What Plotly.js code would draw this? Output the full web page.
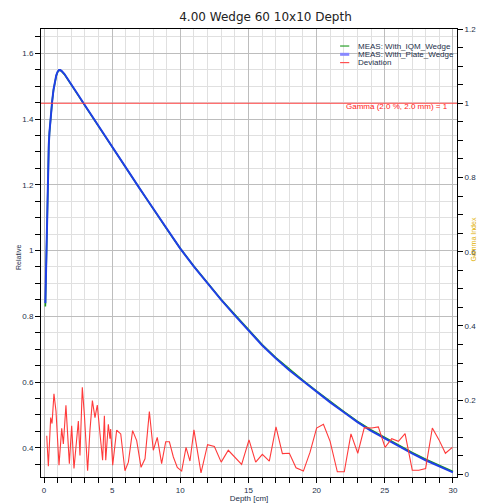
<!DOCTYPE html>
<html>
<head>
<meta charset="utf-8">
<script src="https://cdn.plot.ly/plotly-3.0.1.min.js"></script>
<style>html,body{margin:0;padding:0;background:#fff;}#chart{width:479px;height:503px;}</style>
</head>
<body>
<div id="chart"></div>
<script>
// ---- data ----
const chartTitle = "4.00 Wedge 60 10x10 Depth";
const xTitle = "Depth [cm]";
const yTitle = "Relative";
const y2Title = "Gamma Index";
const seriesNames = ["MEAS: With_IQM_Wedge", "MEAS: With_Plate_Wedge", "Deviation"];
const gammaLabel = "Gamma (2.0 %, 2.0 mm) = 1";
const gammaThreshold = 1;

const depth = [0.1,0.15,0.2,0.25,0.3,0.35,0.4,0.5,0.6,0.7,0.8,0.9,1.0,1.1,1.2,1.3,1.5,1.75,2.0,2.5,3,3.5,4,4.5,5,5.5,6,6.5,7,7.5,8,8.5,9,9.5,10,11,12,13,14,15,16,17,18,19,20,21,22,23,24,25,26,27,28,29,30];
const plateWedge = [0.84,0.95,1.08,1.19,1.27,1.32,1.36,1.415,1.455,1.49,1.515,1.533,1.544,1.549,1.549,1.546,1.537,1.522,1.506,1.474,1.442,1.41,1.379,1.347,1.316,1.285,1.253,1.222,1.19,1.159,1.128,1.097,1.066,1.036,1.006,0.951,0.899,0.850,0.803,0.756,0.712,0.672,0.636,0.603,0.570,0.538,0.508,0.478,0.451,0.428,0.405,0.383,0.362,0.343,0.325];
const iqmWedge = [0.83,0.945,1.075,1.185,1.268,1.318,1.358,1.413,1.454,1.489,1.514,1.532,1.543,1.548,1.548,1.545,1.536,1.521,1.505,1.473,1.441,1.409,1.378,1.346,1.315,1.284,1.252,1.221,1.19,1.158,1.127,1.097,1.066,1.036,1.006,0.952,0.900,0.851,0.805,0.758,0.714,0.674,0.638,0.605,0.572,0.540,0.510,0.480,0.454,0.431,0.408,0.386,0.365,0.346,0.328];

const devDepth = [0.2,0.32,0.49,0.59,0.73,0.88,1.10,1.30,1.42,1.61,1.86,2.03,2.20,2.35,2.52,2.64,2.81,2.96,3.2,3.37,3.55,3.74,3.91,4.11,4.3,4.43,4.53,4.72,4.84,4.89,5.04,5.33,5.63,5.94,6.19,6.5,6.8,7.12,7.41,7.73,8.02,8.31,8.63,8.93,9.2,9.49,9.78,10.1,10.42,10.71,11.0,11.52,12.0,12.5,13.0,13.52,14.5,15.04,15.53,16.02,16.53,17.02,17.49,18.0,18.49,19.03,19.52,20.0,20.5,20.99,21.52,22.03,22.52,23.02,23.5,24.04,24.53,25.02,25.51,26.0,26.49,27.02,27.5,28.0,28.49,28.98,29.45,29.96];
const devValue = [0.104,0.022,0.153,0.137,0.217,0.171,0.025,0.124,0.082,0.186,0.029,0.131,0.016,0.082,0.144,0.051,0.235,0.162,0.010,0.118,0.199,0.153,0.187,0.109,0.038,0.158,0.038,0.135,0.096,0.122,0.025,0.119,0.109,0.010,0.033,0.118,0.091,0.019,0.042,0.169,0.065,0.100,0.029,0.088,0.088,0.047,0.019,0.009,0.073,0.036,0.120,0.004,0.080,0.075,0.033,0.065,0.027,0.093,0.033,0.054,0.036,0.128,0.056,0.057,0.018,0.009,0.060,0.125,0.135,0.089,0.007,0.007,0.109,0.057,0.126,0.125,0.128,0.073,0.096,0.089,0.110,0.011,0.011,0.016,0.125,0.093,0.057,0.073];

const xRange = [-0.22, 30.3];
const yRange = [0.311, 1.674];
const y2Range = [-0.007, 1.2];

// ---- styling ----
const fontFam = "Liberation Sans, Arial, sans-serif";
const tickFont = {family: fontFam, size: 8, color: "#24304a"};
const gridMajor = "#bdbdbd";
const gridMinor = "#e0e0e0";

const traces = [
  {x: depth, y: iqmWedge, name: seriesNames[0], type: "scatter", mode: "lines",
   line: {color: "#1a9a1a", width: 1.6}, yaxis: "y", showlegend: false},
  {x: depth, y: plateWedge, name: seriesNames[1], type: "scatter", mode: "lines",
   line: {color: "#1f3fe6", width: 2}, yaxis: "y", showlegend: false},
  {x: devDepth, y: devValue, name: seriesNames[2], type: "scatter", mode: "lines",
   line: {color: "#ff3a3a", width: 1.1}, yaxis: "y2", showlegend: false}
];

// custom compact legend (paper coords)
const legX0 = 0.719, legX1 = 0.741, legTx = 0.757;
const legRows = [0.962, 0.9435, 0.925];
const legColors = ["#2aa02a", "#8888ff", "#ff5050"];
const legWidths = [1.2, 3, 1.2];
const shapes = [
  {type: "line", xref: "paper", x0: 0, x1: 1, yref: "y2", y0: gammaThreshold, y1: gammaThreshold,
   line: {color: "#ff4040", width: 1.2}}
];
const annotations = [
  {text: gammaLabel, xref: "paper", yref: "paper", x: 0.982, y: 1 - (106 - 29) / 448,
   xanchor: "right", yanchor: "middle", showarrow: false,
   font: {family: fontFam, size: 8, color: "#ff2020"}},
  {text: y2Title, xref: "paper", yref: "paper", x: (474 - 41) / 416, y: 0.53, textangle: -90,
   xanchor: "center", yanchor: "middle", showarrow: false,
   font: {family: fontFam, size: 7, color: "#e0b000"}},
  {text: yTitle, xref: "paper", yref: "paper", x: (18 - 41) / 416, y: 1 - (258 - 29) / 448, textangle: -90,
   xanchor: "center", yanchor: "middle", showarrow: false,
   font: {family: fontFam, size: 7, color: "#24304a"}}
];
seriesNames.forEach((n, i) => {
  shapes.push({type: "line", xref: "paper", yref: "paper", x0: legX0, x1: legX1, y0: legRows[i], y1: legRows[i],
    line: {color: legColors[i], width: legWidths[i]}});
  annotations.push({text: n, xref: "paper", yref: "paper", x: legTx, y: legRows[i], xanchor: "left", yanchor: "middle",
    showarrow: false, font: {family: fontFam, size: 8, color: "#24304a"}});
});

const layout = {
  width: 479, height: 503,
  margin: {l: 41, r: 22, t: 29, b: 26, pad: 0},
  paper_bgcolor: "#ffffff", plot_bgcolor: "#ffffff",
  title: {text: chartTitle, x: (265.5 - 41) / 416, xref: "paper", xanchor: "center",
          y: 1 - 17 / 503, yref: "container", yanchor: "middle",
          font: {family: "DejaVu Sans, Verdana, sans-serif", size: 12, color: "#222"}},
  showlegend: false,
  xaxis: {range: xRange, dtick: 5, tick0: 0, ticks: "outside", ticklen: 5, tickcolor: "#000",
          showline: true, linecolor: "#000", linewidth: 1, mirror: true,
          showgrid: true, gridcolor: gridMajor, zeroline: false, tickfont: tickFont,
          minor: {dtick: 1, ticks: "outside", ticklen: 5, tickcolor: "#000", showgrid: true, gridcolor: gridMinor},
          title: {text: xTitle, standoff: 3, font: {family: fontFam, size: 8, color: "#24304a"}},
          automargin: false},
  yaxis: {range: yRange, dtick: 0.2, tick0: 0, ticks: "outside", ticklen: 5, tickcolor: "#000",
          showline: true, linecolor: "#000", linewidth: 1,
          showgrid: true, gridcolor: gridMajor, zeroline: false, tickfont: tickFont,
          minor: {dtick: 0.05, ticks: "outside", ticklen: 5, tickcolor: "#000", showgrid: true, gridcolor: gridMinor},
          automargin: false},
  yaxis2: {range: y2Range, overlaying: "y", side: "right", dtick: 0.2, tick0: 0,
           ticks: "outside", ticklen: 5, tickcolor: "#000",
           showline: true, linecolor: "#000", linewidth: 1, showgrid: false, zeroline: false, tickfont: tickFont,
           minor: {dtick: 0.05, ticks: "outside", ticklen: 5, tickcolor: "#000", showgrid: false},
           automargin: false},
  shapes: shapes,
  annotations: annotations
};

Plotly.newPlot("chart", traces, layout, {displayModeBar: false, staticPlot: true});
</script>
</body>
</html>
